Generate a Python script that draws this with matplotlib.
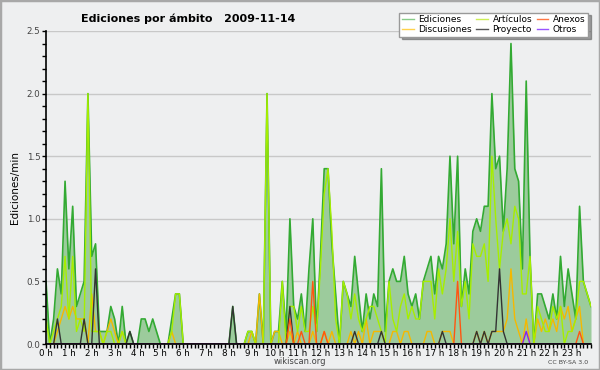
import numpy as np
import matplotlib.pyplot as plt
from matplotlib.lines import Line2D
from matplotlib.patches import Rectangle
from matplotlib.ticker import MultipleLocator

# edits per minute, one value per 10-minute slot (00:00 .. 23:50)
ediciones = [
    0.5, 0.0, 0.2, 0.6, 0.4, 1.3, 0.6, 1.1, 0.3, 0.4, 0.5, 2.0,
    0.7, 0.8, 0.1, 0.1, 0.1, 0.3, 0.2, 0.0, 0.3, 0.0, 0.1, 0.0,
    0.0, 0.2, 0.2, 0.1, 0.2, 0.1, 0.0, 0.0, 0.0, 0.2, 0.4, 0.4,
    0.0, 0.0, 0.0, 0.0, 0.0, 0.0, 0.0, 0.0, 0.0, 0.0, 0.0, 0.0,
    0.0, 0.3, 0.0, 0.0, 0.0, 0.1, 0.1, 0.0, 0.4, 0.0, 2.0, 0.0,
    0.1, 0.1, 0.5, 0.1, 1.0, 0.3, 0.2, 0.4, 0.1, 0.6, 1.0, 0.1,
    0.7, 1.4, 1.4, 0.8, 0.4, 0.0, 0.5, 0.4, 0.3, 0.7, 0.4, 0.1,
    0.4, 0.2, 0.4, 0.3, 1.4, 0.1, 0.5, 0.6, 0.5, 0.5, 0.7, 0.4,
    0.3, 0.4, 0.2, 0.5, 0.6, 0.7, 0.4, 0.7, 0.6, 0.8, 1.5, 0.8,
    1.5, 0.3, 0.6, 0.4, 0.9, 1.0, 0.9, 1.1, 1.1, 2.0, 1.4, 1.5,
    0.9, 1.4, 2.4, 1.4, 1.3, 0.6, 2.1, 0.7, 0.0, 0.4, 0.4, 0.3,
    0.2, 0.4, 0.2, 0.7, 0.3, 0.6, 0.4, 0.2, 1.1, 0.5, 0.4, 0.3,
]
articulos = [
    0.2, 0.0, 0.1, 0.2, 0.3, 0.7, 0.2, 0.7, 0.1, 0.2, 0.1, 2.0,
    0.1, 0.1, 0.1, 0.0, 0.1, 0.1, 0.0, 0.0, 0.1, 0.0, 0.0, 0.0,
    0.0, 0.0, 0.0, 0.0, 0.0, 0.0, 0.0, 0.0, 0.0, 0.1, 0.4, 0.4,
    0.0, 0.0, 0.0, 0.0, 0.0, 0.0, 0.0, 0.0, 0.0, 0.0, 0.0, 0.0,
    0.0, 0.0, 0.0, 0.0, 0.0, 0.1, 0.1, 0.0, 0.0, 0.0, 2.0, 0.0,
    0.0, 0.0, 0.5, 0.0, 0.3, 0.3, 0.1, 0.3, 0.1, 0.1, 0.3, 0.1,
    0.6, 1.2, 1.4, 0.9, 0.2, 0.0, 0.5, 0.4, 0.2, 0.4, 0.2, 0.1,
    0.2, 0.3, 0.3, 0.2, 0.1, 0.0, 0.5, 0.2, 0.1, 0.3, 0.4, 0.2,
    0.3, 0.2, 0.2, 0.5, 0.5, 0.5, 0.2, 0.6, 0.4, 0.6, 1.0, 0.5,
    0.9, 0.3, 0.5, 0.2, 0.8, 0.7, 0.7, 0.8, 0.5, 1.5, 1.0, 0.6,
    0.9, 1.0, 0.8, 1.1, 1.0, 0.4, 0.4, 0.7, 0.0, 0.3, 0.2, 0.1,
    0.1, 0.3, 0.2, 0.3, 0.0, 0.1, 0.1, 0.2, 0.5, 0.5, 0.4, 0.3,
]
discusiones = [
    0.0, 0.0, 0.0, 0.1, 0.2, 0.3, 0.2, 0.3, 0.2, 0.2, 0.2, 0.0,
    0.4, 0.1, 0.1, 0.0, 0.1, 0.2, 0.1, 0.0, 0.1, 0.0, 0.0, 0.0,
    0.0, 0.0, 0.0, 0.0, 0.0, 0.0, 0.0, 0.0, 0.0, 0.1, 0.0, 0.0,
    0.0, 0.0, 0.0, 0.0, 0.0, 0.0, 0.0, 0.0, 0.0, 0.0, 0.0, 0.0,
    0.0, 0.0, 0.0, 0.0, 0.0, 0.0, 0.1, 0.0, 0.4, 0.0, 0.0, 0.0,
    0.1, 0.1, 0.0, 0.0, 0.1, 0.0, 0.1, 0.0, 0.0, 0.0, 0.1, 0.0,
    0.0, 0.1, 0.0, 0.1, 0.0, 0.0, 0.0, 0.0, 0.1, 0.0, 0.1, 0.0,
    0.2, 0.0, 0.1, 0.1, 0.1, 0.0, 0.0, 0.1, 0.1, 0.0, 0.1, 0.1,
    0.0, 0.0, 0.0, 0.0, 0.1, 0.1, 0.0, 0.0, 0.1, 0.1, 0.1, 0.0,
    0.0, 0.0, 0.0, 0.0, 0.0, 0.1, 0.0, 0.1, 0.0, 0.1, 0.1, 0.1,
    0.1, 0.2, 0.6, 0.2, 0.1, 0.0, 0.2, 0.0, 0.0, 0.2, 0.1, 0.2,
    0.1, 0.2, 0.1, 0.3, 0.2, 0.3, 0.1, 0.2, 0.3, 0.0, 0.0, 0.0,
]
proyecto = [0.0] * 144
for i, v in [(3, 0.2), (10, 0.2), (13, 0.6), (22, 0.1), (49, 0.3), (64, 0.3),
             (81, 0.1), (88, 0.1), (104, 0.1), (113, 0.1), (115, 0.1),
             (117, 0.1), (118, 0.1), (119, 0.6), (120, 0.1)]:
    proyecto[i] = v
anexos = [0.0] * 144
for i, v in [(64, 0.2), (67, 0.1), (70, 0.5), (73, 0.1), (108, 0.5), (140, 0.1)]:
    anexos[i] = v
otros = [0.0] * 144
otros[126] = 0.1

hour_labels = [f"{h} h" for h in range(24)]

bg = '#eeeff0'
x = np.arange(len(ediciones)) / 6.0

fig = plt.figure(figsize=(6, 3.7), dpi=100, facecolor=bg)
ax = fig.add_axes([46 / 600, 26 / 370, 545 / 600, 313 / 370])
ax.set_facecolor(bg)

ax.fill_between(x, ediciones, 0, color='#9ccb9c', lw=0, zorder=2)
ax.plot(x, ediciones, color='#33aa33', lw=1.2, zorder=3)
ax.plot(x, discusiones, color='#f5b800', lw=1.0, zorder=4)
ax.plot(x, articulos, color='#a6ee00', lw=1.0, zorder=5)
ax.plot(x, proyecto, color='#333333', lw=1.0, zorder=6)
ax.plot(x, anexos, color='#ff5511', lw=1.0, zorder=7)
ax.plot(x, otros, color='#8822ee', lw=1.0, zorder=8)

ax.set_xlim(0, x[-1])
ax.set_ylim(0, 2.5)
ax.set_xticks(range(24))
ax.set_xticklabels(hour_labels)
ax.xaxis.set_minor_locator(MultipleLocator(1 / 6))
ax.yaxis.set_major_locator(MultipleLocator(0.5))
ax.yaxis.set_minor_locator(MultipleLocator(0.1))
ax.yaxis.set_major_formatter(plt.FormatStrFormatter('%.1f'))
ax.grid(axis='y', color='#c8c8c8', lw=1, zorder=1)
for s in ['top', 'right']:
    ax.spines[s].set_visible(False)
for s in ['left', 'bottom']:
    ax.spines[s].set_linewidth(1.2)
    ax.spines[s].set_zorder(10)
ax.tick_params(which='major', length=3, width=1, pad=0.5, colors='black')
ax.tick_params(which='minor', length=3, width=1)
ax.tick_params(axis='x', labelsize=6.3)
ax.tick_params(axis='y', labelcolor='#444444', labelsize=6.3, pad=1)
ax.set_ylabel('Ediciones/min', fontsize=7.5, labelpad=5)

fig.text(0.313, 0.950, 'Ediciones por ámbito   2009-11-14', ha='center', va='center',
         fontsize=8, fontweight='bold')
fig.text(0.5, 0.022, 'wikiscan.org', ha='center', va='center', fontsize=6, color='#444444')
fig.text(0.98, 0.020, 'CC BY-SA 3.0', ha='right', va='center', fontsize=4.5, color='#444444')

handles = [
    Line2D([], [], color='#88cc88', lw=1),
    Line2D([], [], color='#ffd24d', lw=1),
    Line2D([], [], color='#ccee55', lw=1),
    Line2D([], [], color='#555555', lw=1),
    Line2D([], [], color='#ff7744', lw=1),
    Line2D([], [], color='#9955ff', lw=1),
]
labels = ['Ediciones', 'Discusiones', 'Artículos', 'Proyecto', 'Anexos', 'Otros']
leg = fig.legend(handles, labels, ncol=3, loc='upper right', bbox_to_anchor=(0.988, 0.978),
                 fontsize=6.5, frameon=True, fancybox=False, shadow=True,
                 handlelength=1.3, handletextpad=0.5, columnspacing=0.5,
                 labelspacing=0.05, borderpad=0.3)
leg.get_frame().set_edgecolor('#999999')
leg.get_frame().set_facecolor('white')

fig.patches.append(Rectangle((0, 0), 1, 1, transform=fig.transFigure, fill=False,
                             edgecolor='#a8a8a8', lw=2.5))

fig.savefig('out.png', dpi=100, facecolor=bg)
